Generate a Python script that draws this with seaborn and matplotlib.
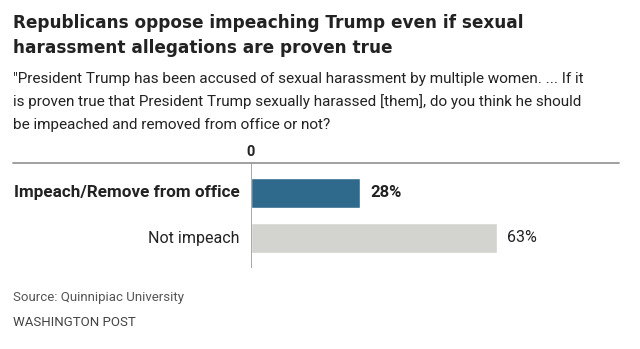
import matplotlib
matplotlib.use("Agg")
import matplotlib.pyplot as plt
import seaborn as sns
import pandas as pd

categories = ["Impeach/Remove from office", "Not impeach"]
values = [28, 63]
value_labels = ["28%", "63%"]
colors = ["#2f6a8d", "#d3d3cf"]

sns.set_theme(style="white")
plt.rcParams['font.family'] = ['Roboto', 'DejaVu Sans']

W, H = 640, 349
fig = plt.figure(figsize=(W / 100, H / 100), dpi=100)
fig.patch.set_facecolor("white")

def fx(px):
    return px / W

def fy(py):
    return 1 - py / H

x0, x1 = 251, 619
y0, y1 = 163, 268
unit = 45.0
ax = fig.add_axes([fx(x0), fy(y1), fx(x1 - x0), (y1 - y0) / H])
df = pd.DataFrame({"cat": categories, "val": values})
sns.barplot(data=df, x="val", y="cat", hue="cat", palette=colors, legend=False,
            orient="h", width=30 / unit, ax=ax, saturation=1)
ax.set_xlim(0, (x1 - x0) / 3.9)
ax.set_ylim(1 + 30 / unit, -30 / unit)
ax.axis("off")
ax.axvline(0, color="#999999", lw=1.2)

for i, (v, lab) in enumerate(zip(values, value_labels)):
    bold = i == 0
    ax.text(v + 2.6, i, lab, va="center", ha="left", fontsize=12 if bold else 11.5,
            color="#222222", fontweight="bold" if bold else "normal")
    ax.text(-3.0, i, categories[i], va="center", ha="right",
            fontsize=12.3 if bold else 11.5,
            color="#222222", fontweight="bold" if bold else "normal")

# top rule and zero label
fig.add_artist(plt.Line2D([fx(13), fx(619)], [fy(163), fy(163)], color="#999999", lw=1.3))
fig.text(fx(251), fy(152), "0", ha="center", va="center", fontsize=10.5,
         fontweight="bold", color="#222222")

fig.text(fx(13), fy(28), "Republicans oppose impeaching Trump even if sexual",
         fontsize=12.2, fontweight="bold", color="#222222", va="baseline",
         family=["DejaVu Sans"])
fig.text(fx(13), fy(53), "harassment allegations are proven true",
         fontsize=12.2, fontweight="bold", color="#222222", va="baseline",
         family=["DejaVu Sans"])
sub = ['"President Trump has been accused of sexual harassment by multiple women. ... If it',
       'is proven true that President Trump sexually harassed [them], do you think he should',
       'be impeached and removed from office or not?']
for k, line in enumerate(sub):
    fig.text(fx(13), fy(82.5 + 23.5 * k), line, fontsize=11, color="#222222", va="baseline")

fig.text(fx(13), fy(301), "Source: Quinnipiac University", fontsize=9.5,
         color="#555555", va="baseline")
fig.text(fx(13), fy(326), "WASHINGTON POST", fontsize=9.5, color="#444444", va="baseline")

fig.savefig("out.png", dpi=100, facecolor="white")
